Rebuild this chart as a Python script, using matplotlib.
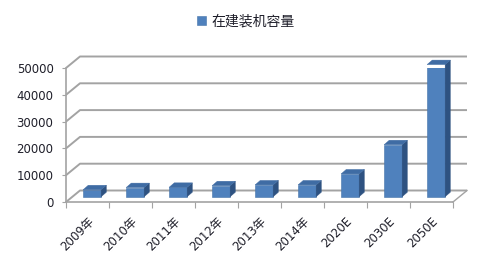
import numpy as np
import matplotlib.pyplot as plt
from matplotlib.patches import Polygon

plt.rcParams['font.family'] = ['DejaVu Sans', 'Noto Sans CJK SC']

# 数据
categories = ["2009年", "2010年", "2011年", "2012年", "2013年", "2014年", "2020E", "2030E", "2050E"]
capacity = [2600, 3400, 3500, 4100, 4400, 4400, 8500, 19400, 49300]
y_ticks = [0, 10000, 20000, 30000, 40000, 50000]
series_name = "在建装机容量"

FRONT = "#4F81BD"
SIDE = "#2E5281"
TOP = "#3F6CA4"
GRID = "#A3A3A3"
TEXT = "#1F1F2A"

fig = plt.figure(figsize=(4.87, 2.64), dpi=100)
ax = fig.add_axes([66 / 487, 62 / 264, 387 / 487, 134 / 264])

n = len(categories)
x = np.arange(n)
ax.set_xlim(-0.5, n - 0.5)
ax.set_ylim(0, y_ticks[-1])

# смещение "глубины" псевдо-3D в единицах данных
dx = 14 / 387 * n
dy = 11.5 / 134 * y_ticks[-1]

# задняя стенка и боковая стенка (сетка)
for v in y_ticks:
    ax.plot([-0.5, -0.5 + dx, n - 0.5 + dx], [v, v + dy, v + dy],
            color=GRID, lw=1.4, clip_on=False, zorder=1, solid_capstyle="butt")
ax.plot([n - 0.5, n - 0.5 + dx], [0, dy], color=GRID, lw=1.0, clip_on=False, zorder=1)

# столбцы
fx, fy = 0.33 * dx, 0.46 * dy
bdx, bdy = 0.37 * dx, 0.39 * dy
bars = ax.bar(x + fx, capacity, width=0.42, bottom=fy, color=FRONT,
              edgecolor="#4674AA", lw=0.4, zorder=3, label=series_name)
for rect, val in zip(bars, capacity):
    l, w = rect.get_x(), rect.get_width()
    top = fy + val
    side = Polygon([(l + w, fy), (l + w + bdx, fy + bdy), (l + w + bdx, top + bdy), (l + w, top)],
                   closed=True, facecolor=SIDE, edgecolor=SIDE, lw=0.3, zorder=3, clip_on=False)
    cap = Polygon([(l, top), (l + bdx, top + bdy), (l + w + bdx, top + bdy), (l + w, top)],
                  closed=True, facecolor=TOP, edgecolor=TOP, lw=0.3, zorder=3, clip_on=False)
    ax.add_patch(side)
    ax.add_patch(cap)

# оси
for s in ["top", "right"]:
    ax.spines[s].set_visible(False)
for s in ["left", "bottom"]:
    ax.spines[s].set_color(GRID)
    ax.spines[s].set_linewidth(1.2)

ax.set_yticks(y_ticks)
ax.set_yticklabels([str(v) for v in y_ticks])
ax.tick_params(axis="y", length=3, color=GRID, labelsize=8.5, labelcolor=TEXT, pad=6)

ax.set_xticks(np.arange(-0.5, n, 1.0))
ax.set_xticklabels([])
ax.tick_params(axis="x", which="major", length=4, color=GRID)
ax.set_xticks(x, categories, minor=True)
ax.tick_params(axis="x", which="minor", length=0, labelsize=8.5, labelcolor=TEXT, pad=9)
for lbl in ax.get_xticklabels(minor=True):
    lbl.set_rotation(45)
    lbl.set_ha("right")
    lbl.set_rotation_mode("anchor")

fig.legend(handles=[bars], labels=[series_name], loc="center", bbox_to_anchor=(0.505, 0.918),
           frameon=False, fontsize=10, handlelength=0.6, handleheight=0.6, handletextpad=0.4,
           labelcolor=TEXT)

fig.savefig("out.png", dpi=100)
